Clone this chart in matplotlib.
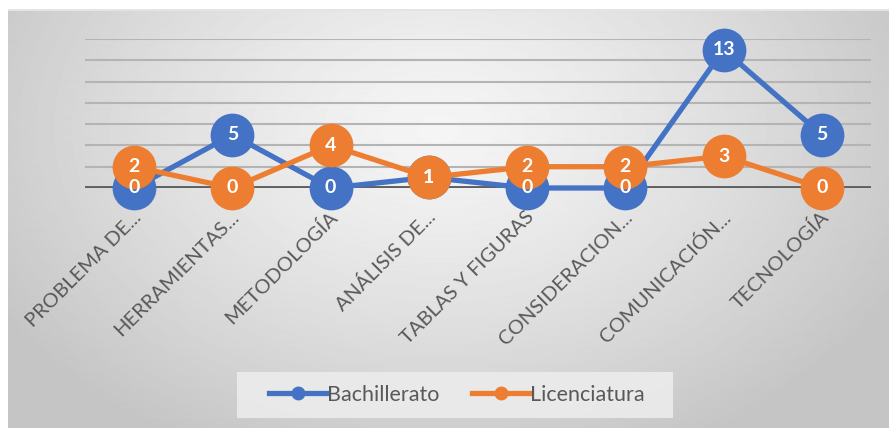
import numpy as np
import matplotlib.pyplot as plt
import matplotlib.transforms as mtransforms
from matplotlib.lines import Line2D
from matplotlib.patches import Rectangle

# data
categories = ['PROBLEMA DE...', 'HERRAMIENTAS...', 'METODOLOGÍA', 'ANÁLISIS DE...',
              'TABLAS Y FIGURAS', 'CONSIDERACION...', 'COMUNICACIÓN...', 'TECNOLOGÍA']
bachillerato = [0, 5, 0, 1, 0, 0, 13, 5]
licenciatura = [2, 0, 4, 1, 2, 2, 3, 0]
series_names = ['Bachillerato', 'Licenciatura']

blue = '#4472C4'
orange = '#ED7D31'
text_gray = '#595959'

plt.rcParams['font.family'] = ['Lato', 'DejaVu Sans']

W, H = 889, 428
fig = plt.figure(figsize=(W / 100, H / 100), dpi=100)
fig.patch.set_facecolor('white')

# background with radial gradient (chart area frame)
bg = fig.add_axes([8 / W, 0, 1 - 8 / W, 1 - 9 / H])
bg.set_axis_off()
yy, xx = np.mgrid[0:420, 0:881]
d = np.sqrt(((xx - 430) / 520.0) ** 2 + ((yy - 120) / 360.0) ** 2)
d = np.clip(d, 0, 1)
shade = 0.96 - 0.19 * d ** 1.3
bg.imshow(shade, cmap='gray', vmin=0, vmax=1, aspect='auto',
          extent=(0, 1, 0, 1), origin='upper')
bg.set_xlim(0, 1)
bg.set_ylim(0, 1)
bg.plot([0, 1], [0.998, 0.998], color='#e4e4e4', lw=1.5)

# legend box
fig.patches.append(Rectangle((237 / W, 1 - 418 / H), (673 - 237) / W, 46 / H,
                             transform=fig.transFigure, facecolor='#ececec',
                             edgecolor='none', alpha=0.9, zorder=0))

# plot area
ax = fig.add_axes([85 / W, 1 - 188 / H, (871 - 85) / W, (188 - 39) / H])
ax.patch.set_alpha(0)
x = np.arange(len(categories))
ax.set_xlim(-0.5, len(categories) - 0.5)
ax.set_ylim(0, 14)

for gy in range(2, 15, 2):
    ax.plot([-0.5, len(categories) - 0.5], [gy, gy], color='#b4b4b4', lw=1.5, zorder=1)
ax.axhline(0, color='#5f5f5f', lw=2.8, zorder=2)

for vals, col in [(bachillerato, blue), (licenciatura, orange)]:
    ax.plot(x, vals, color=col, lw=3.8, marker='o', markersize=31.5,
            markeredgewidth=0, zorder=3, clip_on=False)
for vals in [bachillerato, licenciatura]:
    for xi, v in zip(x, vals):
        ax.text(xi, v, str(v), color='white', fontsize=14, fontweight='bold',
                ha='center', va='center', zorder=5, clip_on=False)

for s in ax.spines.values():
    s.set_visible(False)
ax.set_yticks([])
ax.set_xticks(x)
ax.set_xticklabels(categories, rotation=45, ha='right', va='center',
                   rotation_mode='anchor', fontsize=14.5, color=text_gray)
ax.tick_params(axis='x', length=0, pad=19)
offset = mtransforms.ScaledTranslation(3 / 72, 0, fig.dpi_scale_trans)
for lab in ax.get_xticklabels():
    lab.set_transform(lab.get_transform() + offset)

# legend
handles = [Line2D([], [], color=blue, lw=3.8, marker='o', markersize=9),
           Line2D([], [], color=orange, lw=3.8, marker='o', markersize=9)]
leg = fig.legend(handles, series_names, loc='center', ncol=2,
                 bbox_to_anchor=(457 / W, 1 - 395 / H), fontsize=15.5,
                 frameon=False, handlelength=2.65,
                 handletextpad=0.05, columnspacing=1.5, borderpad=0.3,
                 borderaxespad=0, labelcolor=text_gray)

fig.savefig('out.png', dpi=100)
